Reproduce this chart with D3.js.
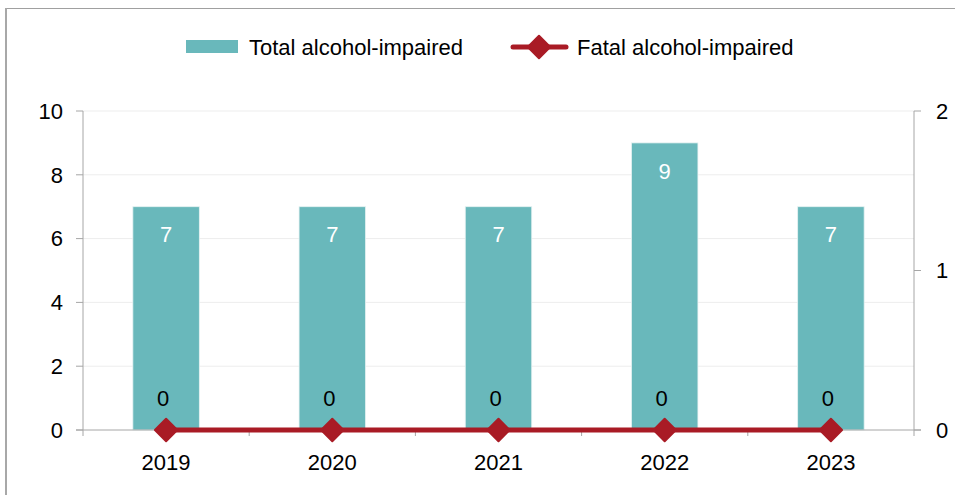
<!DOCTYPE html>
<html><head><meta charset="utf-8">
<script src="https://cdn.jsdelivr.net/npm/d3@7"></script>
<style>body{margin:0;background:#fff}svg{display:block;font-family:"Liberation Sans",Arial,sans-serif}</style>
</head><body><svg id="c" width="955" height="495"></svg>
<script>
const years = ["2019","2020","2021","2022","2023"];
const totalImpaired = [7,7,7,9,7];
const fatalImpaired = [0,0,0,0,0];
const leftTicks = [0,2,4,6,8,10];
const rightTicks = [0,1,2];

const svg = d3.select("#c");
const L=83,R=914,T=111,B=430;
const teal="#69B8BB", red="#A91B25", axisCol="#A6A6A6";
const fs=22;
// chart frame (only top and left edges are visible in the crop)
svg.append("line").attr("x1",6).attr("x2",955).attr("y1",8.5).attr("y2",8.5).attr("stroke","#A0A0A0").attr("stroke-width",1.2);
svg.append("line").attr("x1",6).attr("x2",6).attr("y1",8).attr("y2",495).attr("stroke","#A8A8A8").attr("stroke-width",2);

const x=d3.scaleBand().domain(years).range([L,R]).paddingInner(0.6).paddingOuter(0.3);
const xb=d3.scaleBand().domain(years).range([L,R]);
const y=d3.scaleLinear().domain([0,10]).range([B,T]);
const y2=d3.scaleLinear().domain([0,2]).range([B,T]);

// grid
svg.append("g").selectAll("line").data(leftTicks.filter(d=>d>0)).join("line")
 .attr("x1",L).attr("x2",R).attr("y1",d=>y(d)).attr("y2",d=>y(d)).attr("stroke","#EDEDED").attr("stroke-width",1);

// bars
svg.append("g").selectAll("rect").data(years).join("rect")
 .attr("x",d=>x(d)).attr("width",x.bandwidth())
 .attr("y",(d,i)=>y(totalImpaired[i])).attr("height",(d,i)=>B-y(totalImpaired[i]))
 .attr("fill",teal).attr("stroke","#E6F2F2").attr("stroke-width",0.8);
svg.append("g").selectAll("text").data(years).join("text")
 .attr("x",d=>x(d)+x.bandwidth()/2).attr("y",(d,i)=>y(totalImpaired[i])+28).attr("dy","0.35em")
 .attr("text-anchor","middle").attr("fill","#fff").attr("font-size",fs).text((d,i)=>totalImpaired[i]);

// axes
const ax=svg.append("g").attr("stroke",axisCol).attr("fill","none");
ax.append("line").attr("x1",L).attr("x2",L).attr("y1",T).attr("y2",B);
ax.append("line").attr("x1",R).attr("x2",R).attr("y1",T).attr("y2",B+6);
ax.append("line").attr("x1",L-7).attr("x2",R+7).attr("y1",B).attr("y2",B);
leftTicks.forEach(t=>ax.append("line").attr("x1",L-7).attr("x2",L).attr("y1",y(t)).attr("y2",y(t)));
rightTicks.forEach(t=>ax.append("line").attr("x1",R).attr("x2",R+7).attr("y1",y2(t)).attr("y2",y2(t)));
years.forEach(d=>ax.append("line").attr("x1",xb(d)).attr("x2",xb(d)).attr("y1",B).attr("y2",B+6));

svg.append("g").selectAll("text").data(leftTicks).join("text")
 .attr("x",L-20).attr("y",d=>y(d)).attr("dy","0.35em").attr("text-anchor","end").attr("font-size",fs).attr("fill","#000").text(d=>d);
svg.append("g").selectAll("text").data(rightTicks).join("text")
 .attr("x",R+22).attr("y",d=>y2(d)).attr("dy","0.35em").attr("text-anchor","start").attr("font-size",fs).attr("fill","#000").text(d=>d);
svg.append("g").selectAll("text").data(years).join("text")
 .attr("x",d=>xb(d)+xb.bandwidth()/2).attr("y",B+32).attr("dy","0.35em").attr("text-anchor","middle").attr("font-size",fs).attr("fill","#000").text(d=>d);

// line
const cx=d=>xb(d)+xb.bandwidth()/2;
svg.append("path").datum(years).attr("fill","none").attr("stroke",red).attr("stroke-width",5).attr("stroke-linecap","round")
 .attr("d",d3.line().x(d=>cx(d)).y((d,i)=>y2(fatalImpaired[i])));
const diamond=d3.symbol().type(d3.symbolSquare).size(250);
svg.append("g").selectAll("path").data(years).join("path")
 .attr("transform",(d,i)=>`translate(${cx(d)},${y2(fatalImpaired[i])}) rotate(45)`)
 .attr("d",diamond).attr("fill",red).attr("stroke",red).attr("stroke-width",2).attr("stroke-linejoin","round");
svg.append("g").selectAll("text").data(years).join("text")
 .attr("x",d=>cx(d)-3).attr("y",(d,i)=>y2(fatalImpaired[i])-32).attr("dy","0.35em").attr("text-anchor","middle").attr("font-size",fs).attr("fill","#000").text((d,i)=>fatalImpaired[i]);

// legend
const lg=svg.append("g");
lg.append("rect").attr("x",186).attr("y",40).attr("width",52).attr("height",13).attr("fill",teal);
lg.append("text").attr("x",249).attr("y",47).attr("dy","0.35em").attr("font-size",fs).text("Total alcohol-impaired");
lg.append("line").attr("x1",513).attr("x2",566).attr("y1",47).attr("y2",47).attr("stroke",red).attr("stroke-width",5).attr("stroke-linecap","round");
lg.append("path").attr("transform","translate(539,47) rotate(45)").attr("d",diamond).attr("fill",red).attr("stroke",red).attr("stroke-width",2).attr("stroke-linejoin","round");
lg.append("text").attr("x",577).attr("y",47).attr("dy","0.35em").attr("font-size",fs).text("Fatal alcohol-impaired");
</script></body></html>
